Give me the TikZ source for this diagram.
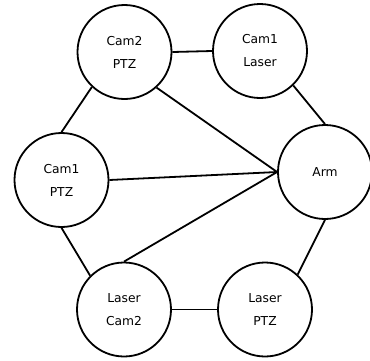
\documentclass[tikz,border=0pt]{standalone}
\usepackage{fontspec}
\setmainfont{DejaVu Sans}

\tikzset{unit/.style={circle,draw,line width=1.8pt,minimum size=94pt,inner sep=0pt,
        align=center,font=\fontsize{12.3}{23}\selectfont},
    link/.style={line width=1.8pt}}

\begin{document}
\begin{tikzpicture}[x=1pt,y=-1pt]
        \useasboundingbox (0,0) rectangle (370,360);
        \node[unit] (campt) at (124.5,52) {Cam2\\PTZ};
        \node[unit] (camla) at (260,51) {Cam1\\Laser};
        \node[unit] (arm) at (325,172) {Arm};
        \node[unit] (onept) at (61.5,180) {Cam1\\PTZ};
        \node[unit] (lacam) at (124,309.5) {Laser\\Cam2};
        \node[unit] (lapt) at (265,309.5) {Laser\\PTZ};
        \draw[link] (campt.east) -- (camla.west);
        \draw[link] (camla.-46) -- (arm.north);
        \draw[link] (campt.-48) -- (arm.west);
        \draw[link] (campt.-133) -- (onept.north);
        \draw[link] (onept.east) -- (arm.west);
        \draw[link] (onept.south) -- (lacam.135);
        \draw[link] (lacam.north) -- (arm.west);
        \draw[link] (lacam.east) -- (lapt.west);
        \draw[link] (lapt.47) -- (arm.south);
\end{tikzpicture}
\end{document}
